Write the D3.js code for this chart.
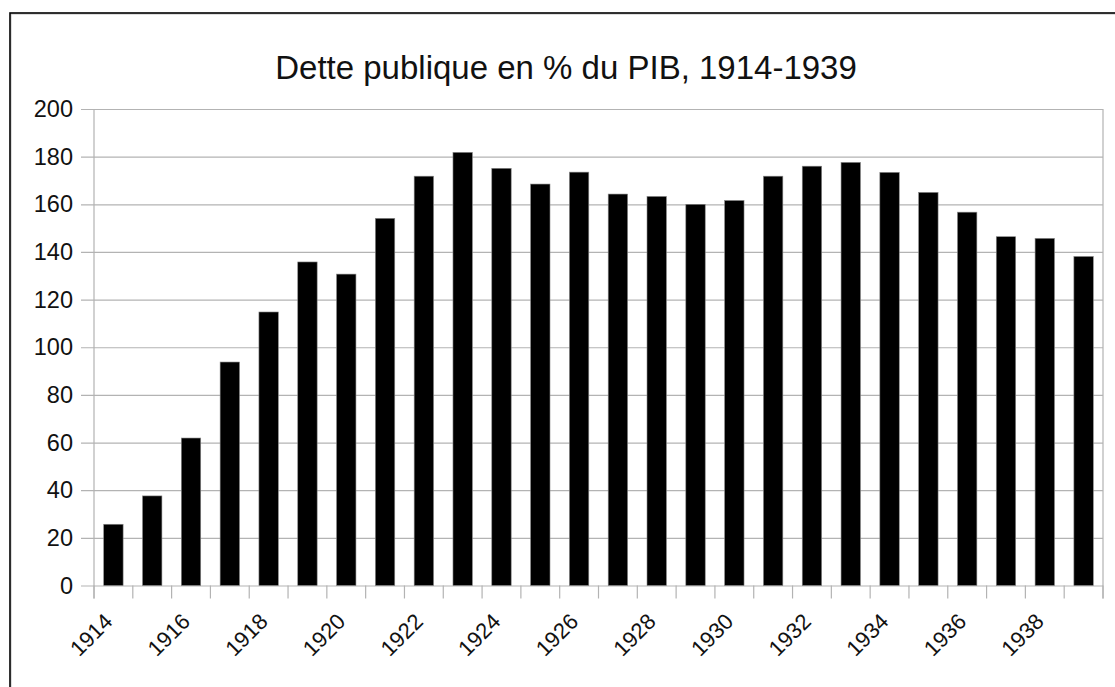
<!DOCTYPE html>
<html><head><meta charset="utf-8">
<script src="https://cdn.jsdelivr.net/npm/d3@7"></script>
<style>html,body{margin:0;padding:0;background:#fff}svg{display:block}</style>
</head><body>
<script>
const years = [1914,1915,1916,1917,1918,1919,1920,1921,1922,1923,1924,1925,1926,1927,1928,1929,1930,1931,1932,1933,1934,1935,1936,1937,1938,1939];
const debt = [25.7,37.6,61.9,93.8,114.8,135.8,130.7,154.1,171.8,181.8,175.1,168.5,173.5,164.3,163.3,160.0,161.6,171.8,176.0,177.6,173.4,165.0,156.7,146.4,145.7,138.1];
const yTicks = [0,20,40,60,80,100,120,140,160,180,200];
const xLabels = [1914,1916,1918,1920,1922,1924,1926,1928,1930,1932,1934,1936,1938];
const title = "Dette publique en % du PIB, 1914-1939";

const W = 1115, H = 687;
const svg = d3.select("body").append("svg").attr("width", W).attr("height", H);
svg.append("rect").attr("width", W).attr("height", H).attr("fill", "#fff");

// frame
svg.append("rect").attr("x", 11).attr("y", 14).attr("width", W + 10).attr("height", H + 10)
  .attr("fill", "none").attr("stroke", "#bbb").attr("stroke-width", 1);
svg.append("rect").attr("x", 10).attr("y", 13).attr("width", W + 10).attr("height", H + 10)
  .attr("fill", "none").attr("stroke", "#000").attr("stroke-width", 1.6);

const x0 = 94, x1 = 1103, yTop = 109, yBot = 585.5;
const x = d3.scaleBand().domain(years).range([x0, x1]).paddingInner(0.5).paddingOuter(0.25);
const y = d3.scaleLinear().domain([0, 200]).range([yBot, yTop]);
const grid = "#b3b3b3";
const font = "'Liberation Sans', Arial, sans-serif";

// gridlines + y axis
const yAxis = d3.axisLeft(y).tickValues(yTicks).tickSize(x1 - x0 + 13).tickPadding(8);
const gy = svg.append("g").attr("transform", `translate(${x1},0)`).call(yAxis);
gy.select(".domain").remove();
gy.selectAll(".tick line").attr("stroke", grid).attr("stroke-width", 1.2);
gy.selectAll(".tick text").attr("font-family", font).attr("font-size", 23.5).attr("fill", "#111")
  .attr("x", -(x1 - x0 + 13) - 8);

// vertical axis lines
svg.append("line").attr("x1", x0).attr("x2", x0).attr("y1", yTop).attr("y2", yBot + 13).attr("stroke", grid).attr("stroke-width", 1.2);
svg.append("line").attr("x1", x1).attr("x2", x1).attr("y1", yTop).attr("y2", yBot + 13).attr("stroke", grid).attr("stroke-width", 1.2);

// x ticks at category boundaries
const step = x.step();
const bounds = d3.range(years.length + 1).map(i => x0 + i * step);
svg.append("g").selectAll("line").data(bounds).join("line")
  .attr("x1", d => d).attr("x2", d => d).attr("y1", yBot).attr("y2", yBot + 13)
  .attr("stroke", grid).attr("stroke-width", 1.2);

// bars
svg.append("g").selectAll("rect").data(years).join("rect")
  .attr("x", d => x(d)).attr("width", x.bandwidth())
  .attr("y", (d, i) => y(debt[i])).attr("height", (d, i) => yBot - y(debt[i]))
  .attr("fill", "#000").attr("stroke", "#888").attr("stroke-width", 0.6);

// x labels
svg.append("g").selectAll("text").data(xLabels).join("text")
  .attr("transform", d => `translate(${x(d) + x.bandwidth() / 2 - 5},${yBot + 32}) rotate(-45)`)
  .attr("text-anchor", "end").attr("dy", "0.35em")
  .attr("font-family", font).attr("font-size", 22).attr("fill", "#111")
  .text(d => d);

// title
svg.append("text").attr("x", 566).attr("y", 79).attr("text-anchor", "middle")
  .attr("font-family", font).attr("font-size", 33).attr("fill", "#111").text(title);
</script>
</body></html>
